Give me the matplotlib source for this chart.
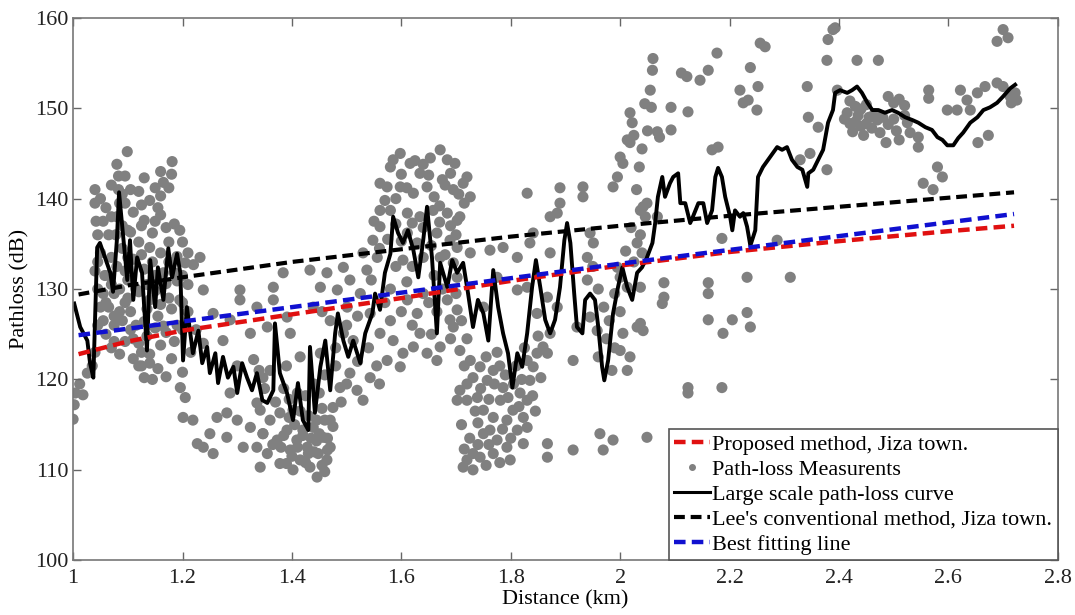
import matplotlib
matplotlib.use("Agg")
import matplotlib.pyplot as plt
from matplotlib.lines import Line2D

plt.rcParams['font.family'] = ['Liberation Serif', 'DejaVu Serif']

# model lines (distance km, pathloss dB)
lee_x = [1.01, 1.1, 1.2, 1.4, 1.6, 1.8, 2.0, 2.2, 2.4, 2.6, 2.72]
lee_y = [129.4, 130.4, 131.3, 133.0, 134.4, 135.8, 137.0, 138.1, 139.1, 140.1, 140.7]
best_x = [1.01, 1.4, 2.0, 2.72]
best_y = [124.9, 128.0, 132.8, 138.3]
prop_x = [1.01, 1.1, 1.2, 1.4, 1.6, 1.8, 2.0, 2.2, 2.4, 2.6, 2.72]
prop_y = [122.8, 124.2, 125.4, 127.2, 129.0, 130.9, 132.6, 134.1, 135.3, 136.4, 137.0]

# large scale path-loss curve
curve = [
    (1.002, 128.4), (1.013, 125.8), (1.026, 124.3), (1.031, 121.8), (1.037, 120.2), (1.044, 134.6),
    (1.049, 135.1), (1.068, 131.8), (1.073, 129.7), (1.080, 135.4), (1.084, 140.7), (1.091, 136.2),
    (1.099, 131.0), (1.104, 135.4), (1.110, 128.8), (1.117, 133.5), (1.126, 131.8), (1.135, 123.2),
    (1.141, 133.2), (1.150, 128.0), (1.155, 132.4), (1.165, 128.8), (1.174, 134.5), (1.181, 131.3),
    (1.190, 133.9), (1.196, 131.8), (1.201, 122.1), (1.208, 128.0), (1.219, 122.9), (1.229, 125.4),
    (1.236, 121.8), (1.245, 123.6), (1.250, 120.7), (1.260, 122.9), (1.265, 119.6), (1.274, 122.5),
    (1.283, 120.2), (1.293, 121.4), (1.300, 118.5), (1.309, 121.8), (1.318, 120.2), (1.327, 118.8),
    (1.336, 120.7), (1.346, 117.7), (1.355, 117.4), (1.366, 118.8), (1.369, 126.2), (1.378, 120.7),
    (1.391, 118.5), (1.402, 115.5), (1.411, 119.6), (1.420, 115.5), (1.430, 114.4), (1.433, 123.6),
    (1.442, 116.3), (1.452, 121.4), (1.461, 124.3), (1.470, 118.8), (1.479, 125.1), (1.484, 127.3),
    (1.494, 124.3), (1.503, 122.5), (1.512, 124.3), (1.525, 121.8), (1.534, 125.1), (1.547, 127.3),
    (1.552, 129.5), (1.561, 127.7), (1.570, 131.8), (1.580, 133.9), (1.585, 138.0), (1.594, 136.2),
    (1.603, 135.1), (1.612, 136.5), (1.622, 134.3), (1.631, 131.3), (1.640, 135.4), (1.647, 139.1),
    (1.656, 133.5), (1.665, 125.1), (1.671, 132.9), (1.684, 130.2), (1.693, 133.2), (1.702, 131.8),
    (1.713, 132.9), (1.722, 129.5), (1.731, 125.8), (1.740, 128.8), (1.750, 127.3), (1.759, 124.3),
    (1.768, 132.1), (1.777, 128.0), (1.786, 125.1), (1.795, 122.9), (1.803, 119.1), (1.812, 122.9),
    (1.821, 121.4), (1.830, 125.1), (1.839, 130.2), (1.846, 133.2), (1.854, 130.2), (1.863, 126.6),
    (1.872, 125.1), (1.881, 126.6), (1.890, 130.2), (1.898, 135.4), (1.903, 137.3), (1.909, 135.1),
    (1.916, 129.5), (1.921, 125.8), (1.931, 125.1), (1.936, 128.8), (1.945, 129.5), (1.954, 128.8),
    (1.960, 125.8), (1.967, 121.4), (1.971, 119.9), (1.978, 122.1), (1.987, 127.3), (1.996, 130.2),
    (2.004, 132.4), (2.013, 130.2), (2.022, 128.8), (2.031, 131.8), (2.040, 132.4), (2.049, 133.5),
    (2.059, 135.1), (2.064, 137.3), (2.069, 140.2), (2.077, 142.4), (2.082, 140.2), (2.091, 141.7),
    (2.097, 142.4), (2.106, 142.8), (2.110, 139.5), (2.119, 139.5), (2.128, 137.3), (2.133, 138.0),
    (2.143, 139.5), (2.152, 139.5), (2.159, 137.3), (2.168, 138.7), (2.174, 142.4), (2.179, 143.4),
    (2.186, 142.4), (2.192, 140.2), (2.201, 138.0), (2.205, 136.5), (2.210, 138.7), (2.219, 138.0),
    (2.225, 138.4), (2.232, 136.9), (2.238, 134.8), (2.247, 136.5), (2.252, 142.4), (2.261, 143.5),
    (2.274, 144.6), (2.287, 145.7), (2.296, 145.4), (2.305, 145.7), (2.314, 144.3), (2.324, 143.5),
    (2.333, 143.2), (2.342, 141.3), (2.344, 142.8), (2.353, 143.2), (2.362, 144.3), (2.371, 145.4),
    (2.380, 148.4), (2.389, 149.8), (2.393, 151.7), (2.402, 152.0), (2.415, 151.7), (2.424, 152.0),
    (2.433, 152.4), (2.442, 151.7), (2.452, 150.6), (2.461, 149.8), (2.472, 149.8), (2.484, 149.5),
    (2.497, 149.8), (2.508, 149.5), (2.521, 149.0), (2.534, 148.7), (2.545, 148.4), (2.558, 147.9),
    (2.570, 147.6), (2.580, 146.8), (2.589, 146.5), (2.598, 145.9), (2.609, 145.9), (2.618, 146.7),
    (2.627, 147.3), (2.640, 148.4), (2.653, 149.0), (2.664, 149.8), (2.676, 150.1), (2.689, 150.6),
    (2.700, 151.3), (2.713, 152.2), (2.722, 152.6),
]

# path-loss measurements, by distance band
meas_a = [
    (1.000, 115.6), (1.002, 117.2), (1.004, 118.5), (1.012, 119.5), (1.018, 118.3), (1.026, 120.7),
    (1.035, 121.5), (1.040, 123.0), (1.040, 141.0), (1.040, 139.5), (1.042, 137.5), (1.045, 136.0),
    (1.050, 134.0), (1.040, 132.0), (1.045, 130.0), (1.050, 128.0), (1.055, 126.5), (1.060, 125.0),
    (1.060, 139.0), (1.065, 136.0), (1.070, 133.5), (1.070, 130.5), (1.065, 128.0), (1.075, 126.0),
    (1.058, 131.5), (1.080, 143.8), (1.083, 142.5), (1.083, 141.0), (1.085, 139.5), (1.080, 138.0),
    (1.078, 136.0), (1.090, 137.0), (1.090, 134.5), (1.099, 145.2), (1.095, 132.0), (1.085, 130.0),
    (1.100, 129.0), (1.060, 128.5), (1.075, 127.0), (1.090, 126.5), (1.095, 128.5), (1.075, 124.2),
    (1.085, 122.8), (1.070, 123.5), (1.095, 124.2), (1.110, 122.3), (1.125, 121.5), (1.140, 122.8),
    (1.155, 121.2), (1.160, 123.8), (1.170, 120.3), (1.180, 122.3), (1.200, 120.8), (1.120, 121.5),
    (1.130, 120.2), (1.145, 120.0), (1.140, 121.8),
    (1.045, 133.0), (1.055, 137.5), (1.055, 129.5), (1.065, 131.5), (1.070, 138.0), (1.075, 129.5),
    (1.080, 132.5), (1.085, 127.5), (1.095, 139.5), (1.100, 136.5), (1.100, 133.5), (1.105, 125.5),
    (1.115, 130.0), (1.115, 126.0), (1.120, 124.0), (1.125, 137.0), (1.125, 133.8), (1.135, 130.5),
    (1.135, 127.8), (1.135, 124.8), (1.145, 136.2), (1.145, 133.0), (1.150, 129.8), (1.155, 127.0),
    (1.155, 139.0), (1.165, 131.8), (1.165, 125.9), (1.175, 135.2), (1.175, 129.0), (1.185, 131.8),
    (1.185, 124.2), (1.195, 128.8), (1.200, 131.5), (1.090, 140.5), (1.095, 142.5), (1.070, 141.5),
    (1.050, 140.0), (1.045, 126.0), (1.130, 142.3), (1.160, 143.0), (1.200, 125.5), (1.210, 127.5),
    (1.215, 123.0), (1.225, 125.5), (1.110, 124.5), (1.125, 123.0),
]
meas_b = [
    (1.181, 144.1), (1.180, 142.7), (1.175, 141.2), (1.165, 141.8), (1.160, 140.3), (1.150, 141.2),
    (1.140, 139.8), (1.120, 140.8), (1.125, 139.3), (1.105, 141.0), (1.110, 138.5), (1.130, 137.6),
    (1.150, 137.5), (1.160, 138.2), (1.170, 136.8), (1.185, 137.2), (1.195, 136.5), (1.200, 135.2),
    (1.190, 133.6), (1.105, 136.3), (1.120, 135.2), (1.140, 134.6), (1.160, 134.0), (1.175, 133.0),
    (1.110, 133.3), (1.130, 132.2), (1.150, 131.5), (1.170, 130.6), (1.190, 130.9), (1.100, 131.0),
    (1.120, 129.7), (1.140, 128.8), (1.160, 128.3), (1.180, 127.8), (1.200, 128.5), (1.105, 127.5),
    (1.130, 126.4), (1.150, 125.7), (1.170, 125.2), (1.190, 126.0), (1.210, 130.5), (1.220, 132.7),
    (1.210, 134.0), (1.205, 132.9), (1.232, 133.5), (1.238, 129.9), (1.305, 129.9), (1.305, 128.8),
    (1.256, 127.3), (1.287, 126.6), (1.336, 128.0), (1.324, 125.1), (1.274, 124.3), (1.238, 124.0),
    (1.355, 125.8), (1.196, 119.1), (1.205, 118.0), (1.201, 115.8), (1.219, 115.5), (1.238, 112.5),
    (1.250, 114.0), (1.263, 115.8), (1.281, 113.6), (1.300, 115.5), (1.311, 112.5), (1.324, 114.7),
    (1.336, 112.5), (1.347, 114.0), (1.281, 116.3), (1.336, 117.4), (1.347, 120.2), (1.287, 118.5),
    (1.256, 111.8), (1.227, 112.9), (1.300, 121.5), (1.330, 122.2), (1.340, 121.0),
]
meas_c = [
    (1.347, 114.0), (1.360, 115.5), (1.373, 113.3), (1.391, 114.4), (1.397, 112.2), (1.409, 113.3),
    (1.415, 111.1), (1.428, 112.5), (1.433, 110.3), (1.446, 109.2), (1.448, 111.8), (1.457, 113.6),
    (1.464, 111.1), (1.470, 115.5), (1.378, 116.3), (1.402, 116.6), (1.355, 111.8), (1.378, 110.7),
    (1.402, 110.0), (1.420, 114.4), (1.439, 114.7), (1.342, 116.6), (1.342, 110.3), (1.433, 132.1),
    (1.464, 131.8), (1.494, 132.4), (1.506, 131.0), (1.537, 132.1), (1.452, 130.2), (1.483, 129.9),
    (1.525, 129.5), (1.439, 128.0), (1.501, 128.0), (1.543, 127.3), (1.384, 131.8), (1.366, 130.2),
    (1.366, 128.8), (1.391, 126.9), (1.397, 125.1), (1.415, 122.5), (1.452, 122.9), (1.494, 125.1),
    (1.512, 124.3), (1.561, 125.1), (1.585, 124.3), (1.603, 122.9), (1.574, 122.1), (1.598, 121.4),
    (1.622, 123.6), (1.647, 122.9), (1.665, 122.1), (1.671, 123.6), (1.634, 125.1), (1.629, 127.3),
    (1.611, 128.8), (1.640, 129.5), (1.684, 128.8), (1.689, 126.6), (1.543, 120.2), (1.506, 120.7),
    (1.519, 118.8), (1.530, 117.7), (1.488, 119.1), (1.475, 116.9), (1.702, 117.7),
    (1.350, 119.0), (1.360, 121.0), (1.370, 117.5), (1.385, 119.0), (1.390, 121.5), (1.395, 117.8),
    (1.410, 118.5), (1.405, 115.0), (1.415, 116.5), (1.425, 118.2), (1.430, 116.0), (1.440, 119.5),
    (1.440, 112.0), (1.450, 114.0), (1.455, 116.8), (1.465, 113.5), (1.470, 112.5), (1.475, 114.8),
    (1.460, 109.8), (1.380, 112.5), (1.390, 110.7), (1.365, 112.8), (1.400, 111.5), (1.425, 110.8),
    (1.435, 113.5), (1.450, 118.5), (1.460, 120.5), (1.480, 121.5), (1.490, 117.5), (1.500, 119.5),
    (1.480, 123.5), (1.500, 126.0), (1.520, 127.0), (1.470, 126.5), (1.455, 127.5), (1.520, 122.0),
    (1.540, 123.5), (1.555, 121.5), (1.560, 119.5), (1.410, 112.5), (1.420, 113.8), (1.430, 111.8),
    (1.445, 113.2), (1.455, 110.5), (1.465, 112.2), (1.445, 115.5), (1.460, 115.5), (1.395, 115.8),
    (1.385, 113.8),
]
meas_d = [
    (1.585, 144.3), (1.598, 145.0), (1.616, 143.9), (1.634, 142.8), (1.653, 144.5), (1.671, 145.4),
    (1.684, 144.3), (1.698, 143.9), (1.574, 141.3), (1.598, 141.3), (1.622, 140.6), (1.647, 141.3),
    (1.675, 142.1), (1.695, 141.0), (1.561, 138.7), (1.580, 138.7), (1.611, 138.4), (1.634, 138.0),
    (1.658, 138.7), (1.684, 138.4), (1.702, 137.6), (1.561, 136.9), (1.611, 136.2), (1.629, 135.1),
    (1.665, 136.2), (1.689, 135.4), (1.548, 135.4), (1.556, 133.5), (1.603, 133.2), (1.671, 133.5),
    (1.695, 132.9), (1.561, 141.7), (1.580, 143.5), (1.720, 142.4), (1.726, 140.2), (1.707, 138.0),
    (1.713, 141.7), (1.702, 134.6), (1.726, 134.0), (1.702, 131.3), (1.702, 127.7), (1.695, 125.8),
    (1.570, 139.8), (1.590, 140.0), (1.600, 142.7), (1.610, 141.2), (1.625, 144.2), (1.640, 143.8),
    (1.650, 142.6), (1.660, 140.2), (1.670, 139.2), (1.680, 141.5), (1.690, 142.8), (1.705, 140.5),
    (1.715, 139.5), (1.560, 134.5), (1.575, 135.5), (1.590, 137.2), (1.600, 135.3), (1.620, 137.3),
    (1.640, 136.8), (1.655, 134.8), (1.670, 137.4), (1.680, 133.8), (1.690, 137.0), (1.700, 136.0),
    (1.620, 132.5), (1.640, 133.5), (1.660, 131.5), (1.590, 132.5), (1.610, 130.8), (1.580, 130.0),
    (1.600, 127.5), (1.620, 126.0), (1.650, 128.5), (1.665, 127.5), (1.675, 130.0), (1.700, 129.5),
    (1.710, 126.5), (1.720, 124.5), (1.690, 124.5), (1.655, 125.0), (1.580, 126.5), (1.570, 128.5),
    (1.550, 137.5), (1.545, 131.0), (1.530, 134.0),
]
meas_e = [
    (1.830, 140.6), (1.890, 141.2), (1.890, 139.5), (1.932, 141.3), (1.932, 140.2), (1.872, 138.0),
    (1.885, 138.4), (1.841, 136.2), (1.945, 136.2), (1.951, 135.1), (1.762, 134.3), (1.786, 134.6),
    (1.812, 133.5), (1.835, 135.1), (1.872, 134.0), (1.940, 133.5), (1.775, 131.3), (1.812, 129.9),
    (1.830, 130.2), (1.867, 129.1), (1.848, 127.3), (1.885, 128.0), (1.945, 126.9), (1.958, 125.4),
    (1.750, 128.0), (1.921, 125.8), (1.707, 123.2), (1.726, 122.1), (1.744, 121.4), (1.731, 120.2),
    (1.757, 119.9), (1.768, 121.0), (1.707, 118.8), (1.720, 117.7), (1.739, 118.0), (1.750, 116.6),
    (1.768, 115.8), (1.781, 117.7), (1.786, 119.1), (1.793, 115.5), (1.804, 116.6), (1.812, 114.4),
    (1.823, 115.8), (1.817, 118.5), (1.830, 117.7), (1.835, 119.9), (1.841, 121.4), (1.830, 122.1),
    (1.848, 122.9), (1.859, 123.6), (1.762, 114.4), (1.775, 113.3), (1.750, 114.0), (1.731, 111.8),
    (1.720, 111.1), (1.744, 111.4), (1.768, 111.8), (1.793, 112.5), (1.799, 111.1), (1.823, 112.9),
    (1.830, 114.7), (1.713, 110.3), (1.731, 110.0), (1.867, 112.9), (1.867, 111.4), (1.914, 112.2),
    (1.963, 114.0), (1.969, 112.2), (1.987, 113.3), (1.914, 122.1), (1.872, 125.1), (1.867, 122.9),
    (2.049, 113.6),
    (1.715, 121.5), (1.720, 119.5), (1.735, 116.5), (1.745, 119.0), (1.755, 122.5), (1.760, 117.8),
    (1.770, 119.5), (1.775, 123.0), (1.780, 121.5), (1.785, 114.5), (1.790, 120.5), (1.795, 118.0),
    (1.800, 113.5), (1.805, 119.5), (1.810, 121.5), (1.815, 117.0), (1.820, 120.0), (1.825, 123.5),
    (1.840, 118.2), (1.845, 116.5), (1.850, 124.8), (1.855, 120.2), (1.760, 112.8), (1.740, 112.8),
    (1.725, 113.5), (1.710, 115.0), (1.715, 112.3), (1.755, 110.5), (1.780, 110.8), (1.740, 115.2),
    (1.940, 131.0), (1.950, 132.5), (1.960, 130.0), (1.970, 128.0), (1.975, 124.5), (1.980, 126.5),
    (1.985, 121.0), (1.990, 123.5), (1.960, 122.5), (1.990, 129.5), (2.000, 127.5),
]
meas_f = [
    (2.018, 149.5), (2.022, 148.4), (2.013, 146.5), (2.018, 146.2), (2.000, 144.6), (2.005, 143.9),
    (1.995, 142.4), (1.987, 141.3), (2.042, 139.1), (2.046, 138.0), (2.031, 135.1), (1.995, 132.4),
    (2.000, 131.3), (2.013, 130.2), (2.005, 125.1), (2.000, 123.2), (2.018, 122.5), (2.013, 121.0),
    (2.031, 125.8), (2.037, 130.2), (2.037, 138.7), (2.037, 136.0), (2.040, 134.0), (2.049, 139.5),
    (2.068, 138.0), (2.059, 154.2), (2.072, 146.8), (2.068, 147.4), (2.057, 150.1), (2.093, 150.1),
    (2.093, 147.6), (2.112, 153.9), (2.122, 153.5), (2.124, 149.6), (2.146, 153.1), (2.161, 154.2),
    (2.177, 156.1), (2.168, 145.4), (2.179, 145.7), (2.219, 152.0), (2.225, 150.6), (2.238, 154.5),
    (2.256, 157.2), (2.265, 156.8), (2.252, 152.4), (2.250, 149.8), (2.234, 150.9), (2.080, 130.7),
    (2.080, 129.1), (2.077, 128.4), (2.161, 130.7), (2.161, 129.5), (2.232, 131.3), (2.232, 127.4),
    (2.205, 126.6), (2.188, 125.1), (2.161, 126.6), (2.238, 125.8), (2.311, 131.3), (2.287, 135.4),
    (2.186, 135.6), (2.124, 119.1), (2.124, 118.5), (2.186, 119.1), (2.037, 126.2), (2.042, 125.4),
    (2.010, 134.2), (2.020, 136.8), (2.025, 133.0), (2.030, 141.0), (2.035, 143.5), (2.040, 145.5),
    (2.050, 147.5), (2.055, 152.0), (2.060, 155.5), (2.025, 147.0), (2.045, 150.5),
]
meas_g = [
    (2.342, 152.4), (2.344, 149.0), (2.380, 157.6), (2.389, 158.7), (2.378, 155.3), (2.397, 152.0),
    (2.362, 147.9), (2.347, 145.0), (2.329, 144.3), (2.378, 143.2), (2.393, 158.9), (2.433, 155.3),
    (2.472, 155.3), (2.415, 149.5), (2.420, 148.3), (2.425, 147.4), (2.435, 149.2), (2.440, 148.0),
    (2.445, 147.0), (2.455, 149.0), (2.460, 147.8), (2.470, 148.7), (2.475, 147.3), (2.430, 150.2),
    (2.450, 150.4), (2.470, 148.8), (2.490, 151.3), (2.500, 150.6), (2.510, 151.0), (2.520, 150.3),
    (2.520, 149.2), (2.486, 146.2), (2.510, 146.5), (2.525, 148.4), (2.530, 147.3), (2.545, 146.8),
    (2.545, 145.7), (2.564, 152.0), (2.564, 151.1), (2.580, 143.5), (2.589, 142.4), (2.554, 141.7),
    (2.572, 141.0), (2.598, 149.8), (2.616, 149.8), (2.622, 152.0), (2.634, 150.9), (2.640, 149.8),
    (2.653, 151.7), (2.667, 152.4), (2.654, 146.2), (2.673, 147.0), (2.689, 152.8), (2.700, 152.4),
    (2.713, 151.3), (2.722, 151.7), (2.689, 157.4), (2.700, 158.7), (2.709, 157.8), (2.715, 150.6),
    (2.725, 150.9), (2.410, 148.8), (2.430, 148.5), (2.440, 149.9), (2.450, 148.3), (2.465, 149.4),
    (2.480, 149.0), (2.490, 148.2), (2.500, 148.8), (2.505, 147.5), (2.420, 150.8),
]

fig = plt.figure(figsize=(10.75, 6.15), dpi=100)
ax = fig.add_axes((0.068, 0.089, 0.916, 0.882))

measurements = meas_a + meas_b + meas_c + meas_d + meas_e + meas_f + meas_g
ax.scatter([p[0] for p in measurements], [p[1] for p in measurements],
           s=64, color='#808080', edgecolors='none', zorder=1)
ax.plot([p[0] for p in curve], [p[1] for p in curve], color='black', lw=2.8, zorder=2)
ax.plot(lee_x, lee_y, color='black', lw=3, ls=(0, (2.6, 1.4)), zorder=3)
ax.plot(prop_x, prop_y, color='#e01010', lw=3.2, ls=(0, (2.6, 1.4)), zorder=3)
ax.plot(best_x, best_y, color='#1010d0', lw=3.2, ls=(0, (2.6, 1.4)), zorder=4)

ax.set_xlim(1, 2.8)
ax.set_ylim(100, 160)
xticks = [1, 1.2, 1.4, 1.6, 1.8, 2, 2.2, 2.4, 2.6, 2.8]
ax.set_xticks(xticks, ['1', '1.2', '1.4', '1.6', '1.8', '2', '2.2', '2.4', '2.6', '2.8'])
ax.set_yticks(range(100, 161, 10))
ax.tick_params(direction='in', top=True, right=True, length=6, width=1, color='#666666',
               labelsize=16, labelcolor='#222222')
ax.tick_params(axis='x', pad=6)
for sp in ax.spines.values():
    sp.set_color('#777777')
    sp.set_linewidth(1.2)
ax.set_xlabel('Distance (km)', fontsize=16, labelpad=2)
ax.set_ylabel('Pathloss (dB)', fontsize=16, labelpad=4)

handles = [
    Line2D([], [], color='#e01010', lw=3.2, ls=(0, (2.6, 1.4))),
    Line2D([], [], color='#808080', marker='o', ms=4, ls='none'),
    Line2D([], [], color='black', lw=2.2),
    Line2D([], [], color='black', lw=3, ls=(0, (2.6, 1.4))),
    Line2D([], [], color='#1010d0', lw=3.2, ls=(0, (2.6, 1.4))),
]
labels = ['Proposed method, Jiza town.', 'Path-loss Measurents', 'Large scale path-loss curve',
          "Lee's conventional method, Jiza town.", 'Best fitting line']
leg = ax.legend(handles, labels, loc='lower right', fontsize=16, borderaxespad=0,
                fancybox=False, framealpha=1, edgecolor='#555555', handlelength=1.6,
                handletextpad=0.1, labelspacing=0.2, borderpad=0.25)
leg.get_frame().set_linewidth(1.2)

fig.savefig('out.png', dpi=100)
